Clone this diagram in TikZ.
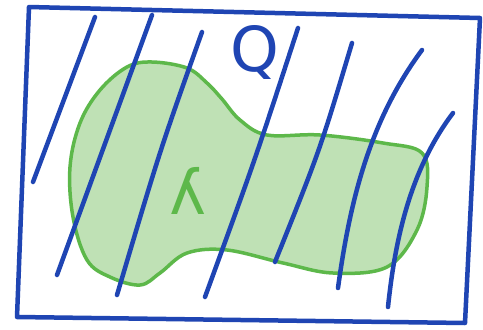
\documentclass[tikz,border=0pt]{standalone}
\usepackage{fontspec}
\newfontfamily\greekfont{DejaVu Sans}
\begin{document}
\begin{tikzpicture}[x=1pt,y=-1pt,
  pen/.style={draw=penblue,line width=4.5pt,line cap=round,line join=round},
  gpen/.style={draw=pengreen,line width=3.5pt,line cap=round,line join=round,fill=blobfill},
  lbl/.style={inner sep=0pt}]
\definecolor{penblue}{HTML}{1F45B3}
\definecolor{pengreen}{HTML}{5DB84A}
\definecolor{blobfill}{HTML}{BFE1B5}
\useasboundingbox (0,0) rectangle (483,330);
\fill[white] (0,0) rectangle (483,330);
% green blob
\draw[gpen] plot[smooth cycle,tension=0.6] coordinates {
 (152,62) (187,68) (207,83) (222,99) (240,120) (267,135) (320,135) (383,143)
 (422,153) (427,187) (417,230) (387,267) (333,273) (283,263) (227,250)
 (187,253) (160,273) (140,285) (110,277) (87,260) (73,217) (70,167)
 (80,123) (100,90) (127,67)};
% frame
\draw[pen] (29,7) -- (480,18) -- (465,323) -- (17,317) -- cycle;
% strokes
\draw[pen] (95,17) -- (33,182);
\draw[pen] (152,15) -- (57,275);
\draw[pen] (202,32) .. controls (160,150) .. (117,295);
\draw[pen] (298,28) .. controls (255,160) .. (205,297);
\draw[pen] (352,43) .. controls (320,150) .. (275,262);
\draw[pen] (422,50) .. controls (370,120) and (350,200) .. (338,288);
\draw[pen] (453,113) .. controls (410,170) and (395,240) .. (388,307);
% labels
\node[lbl,text=penblue,font={\fontsize{62}{62}\selectfont\greekfont}] (q) at (255,52) {Q};
\node[lbl,text=pengreen,xscale=-1,font={\fontsize{62}{62}\selectfont\greekfont}] (lam) at (188,191) {λ};
\end{tikzpicture}
\end{document}
